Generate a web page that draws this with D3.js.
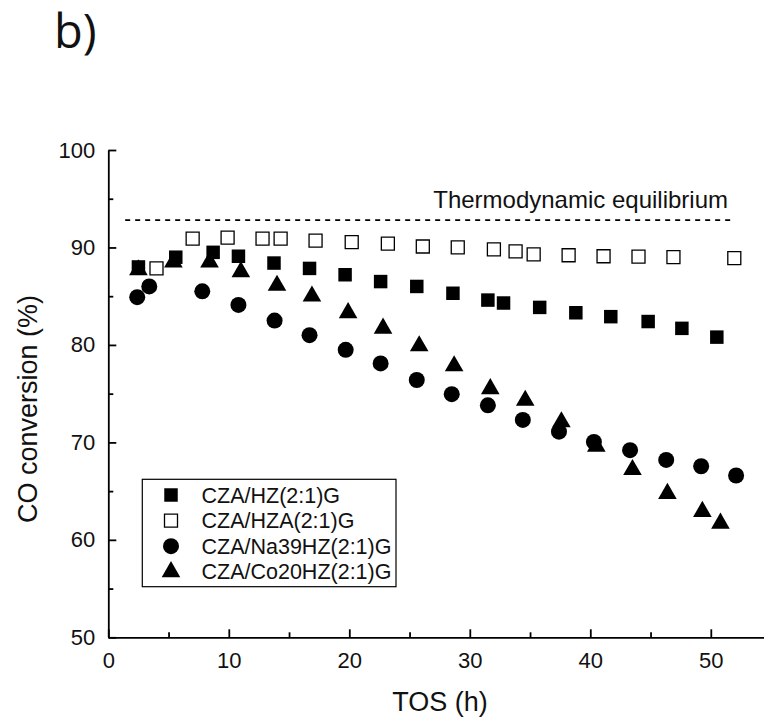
<html lang="en">
<head>
  <meta http-equiv="Content-Type" content="text/html; charset=utf-8" />
  <script src="https://d3js.org/d3.v7.min.js"></script>
  <style>
    body { margin: 0; background: #fff; }
    text { font-family: "Liberation Sans", Arial, sans-serif; fill: #111; }
  </style>
</head>
<body>
  <div id="chart"></div>
  <script>
    'use strict';
    const svgWidth = 764;
    const svgHeight = 719;

    // series: TOS (h) and CO conversion (%)
    const hzX = [2.5, 5.6, 8.7, 10.8, 13.75, 16.7, 19.65, 22.6, 25.6, 28.6, 31.5, 32.8, 35.8, 38.8, 41.7, 44.8, 47.6, 50.5];
    const hzY = [88.0, 89.0, 89.5, 89.1, 88.4, 87.85, 87.2, 86.5, 86.0, 85.3, 84.6, 84.3, 83.85, 83.3, 82.9, 82.4, 81.7, 80.8];

    const hzaX = [4.0, 7.0, 9.9, 12.8, 14.3, 17.2, 20.2, 23.2, 26.1, 29.0, 32.0, 33.8, 35.3, 38.2, 41.1, 44.0, 46.9, 51.95];
    const hzaY = [87.85, 90.9, 91.0, 90.9, 90.9, 90.7, 90.55, 90.4, 90.1, 90.0, 89.8, 89.6, 89.3, 89.2, 89.1, 89.05, 89.0, 88.9];

    const naX = [2.4, 3.4, 7.8, 10.8, 13.8, 16.7, 19.7, 22.6, 25.6, 28.5, 31.5, 34.4, 37.4, 40.3, 43.3, 46.3, 49.2, 52.1];
    const naY = [84.9, 86.0, 85.5, 84.1, 82.5, 81.0, 79.5, 78.1, 76.4, 74.95, 73.8, 72.3, 71.1, 70.05, 69.2, 68.2, 67.55, 66.6];

    const coX = [2.5, 5.4, 8.4, 11.0, 14.0, 16.9, 19.9, 22.8, 25.8, 28.7, 31.7, 34.6, 37.6, 40.5, 43.5, 46.4, 49.3, 50.8];
    const coY = [87.7, 88.5, 88.5, 87.5, 86.1, 85.0, 83.3, 81.7, 79.9, 77.85, 75.5, 74.3, 72.1, 69.6, 67.2, 64.75, 62.9, 61.7];

    const seriesNames = ["CZA/HZ(2:1)G", "CZA/HZA(2:1)G", "CZA/Na39HZ(2:1)G", "CZA/Co20HZ(2:1)G"];
    const equilibrium = 92.8;
    const equilibriumRange = [1.4, 51.7];

    const xTicks = [0, 10, 20, 30, 40, 50];
    const xMinor = [5, 15, 25, 35, 45, 55];
    const yTicks = [50, 60, 70, 80, 90, 100];
    const yMinor = [55, 65, 75, 85, 95];

    const x = d3.scaleLinear().domain([0, 55]).range([108.3, 108.3 + 55 * 12.05]);
    const y = d3.scaleLinear().domain([50, 100]).range([637.3, 150]);

    const svg = d3.select("#chart").append("svg")
      .attr("width", svgWidth).attr("height", svgHeight);

    // panel label
    svg.append("text").attr("x", 54).attr("y", 48)
      .style("font-family", "'Open Sans', 'Noto Sans', sans-serif")
      .attr("font-size", 47).text("b)");

    // axes
    svg.append("g").attr("transform", `translate(0,${y(50)})`)
      .call(d3.axisBottom(x).tickValues(xTicks).tickSizeInner(-8).tickSizeOuter(0).tickPadding(15));
    svg.append("g").attr("transform", `translate(0,${y(50)})`)
      .call(d3.axisBottom(x).tickValues(xMinor).tickSizeInner(-5).tickSizeOuter(0).tickFormat(""))
      .select(".domain").remove();
    svg.append("g").attr("transform", `translate(${x(0)},0)`)
      .call(d3.axisLeft(y).tickValues(yTicks).tickSizeInner(-8).tickSizeOuter(0).tickPadding(13));
    svg.append("g").attr("transform", `translate(${x(0)},0)`)
      .call(d3.axisLeft(y).tickValues(yMinor).tickSizeInner(-5).tickSizeOuter(0).tickFormat(""))
      .select(".domain").remove();

    svg.selectAll(".domain, .tick line").attr("stroke", "#000").attr("stroke-width", 1.8);
    svg.selectAll(".tick text").attr("font-size", 22)
      .style("font-family", "'Liberation Sans', Arial, sans-serif").attr("fill", "#111");

    // axis titles
    svg.append("text").attr("x", 440).attr("y", 711).attr("text-anchor", "middle")
      .attr("font-size", 27).text("TOS (h)");
    svg.append("text").attr("transform", "translate(37,409) rotate(-90)")
      .attr("text-anchor", "middle").attr("font-size", 27).text("CO conversion (%)");

    // thermodynamic equilibrium
    svg.append("line")
      .attr("x1", x(equilibriumRange[0])).attr("x2", x(equilibriumRange[1]))
      .attr("y1", y(equilibrium)).attr("y2", y(equilibrium))
      .attr("stroke", "#000").attr("stroke-width", 1.6).attr("stroke-dasharray", "5,5");
    svg.append("text").attr("x", 728).attr("y", 208)
      .attr("text-anchor", "end").attr("font-size", 24).text("Thermodynamic equilibrium");

    // markers
    const markers = [
      {type: d3.symbolSquare, size: 182, fill: "#000", stroke: "none"},
      {type: d3.symbolSquare, size: 169, fill: "#fff", stroke: "#000"},
      {type: d3.symbolCircle, size: 201, fill: "#000", stroke: "none"},
      {type: d3.symbolTriangle, size: 150, fill: "#000", stroke: "none"}
    ];
    const allX = [hzX, hzaX, naX, coX];
    const allY = [hzY, hzaY, naY, coY];

    // draw order so overlapping markers stack as in the figure
    [0, 1, 3, 2].forEach(i => {
      const m = markers[i];
      const pts = allX[i].map((v, j) => [v, allY[i][j]]);
      svg.append("g").selectAll("path").data(pts).join("path")
        .attr("transform", d => `translate(${x(d[0])},${y(d[1])})`)
        .attr("d", d3.symbol().type(m.type).size(m.size))
        .attr("fill", m.fill).attr("stroke", m.stroke).attr("stroke-width", 1.3);
    });

    // legend
    const legend = svg.append("g");
    legend.append("rect").attr("x", 142.3).attr("y", 479.3).attr("width", 253.7).attr("height", 107.4)
      .attr("fill", "#fff").attr("stroke", "#000").attr("stroke-width", 1.2);
    seriesNames.forEach((name, i) => {
      const cy = 495 + i * 25.6;
      const m = markers[i];
      legend.append("path").attr("transform", `translate(171,${cy})`)
        .attr("d", d3.symbol().type(m.type).size(m.size))
        .attr("fill", m.fill).attr("stroke", m.stroke).attr("stroke-width", 1.3);
      legend.append("text").attr("x", 201.5).attr("y", cy + 7.5).attr("font-size", 21.5).text(name);
    });
  </script>
</body>
</html>
